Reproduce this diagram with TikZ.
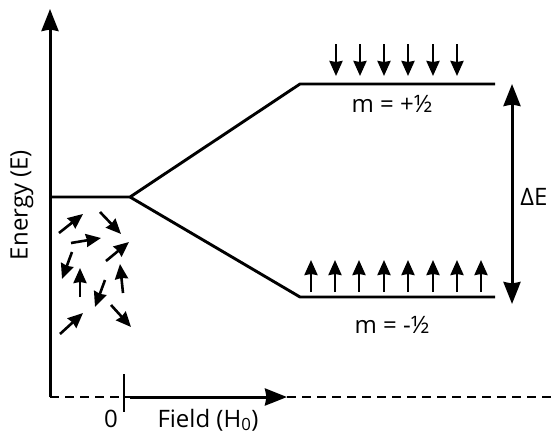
\documentclass[tikz,border=0pt]{standalone}
\usepackage{fontspec}
\setmainfont{Open Sans}
\usetikzlibrary{arrows.meta}
\newcommand\lblfont{\fontsize{24pt}{28pt}\selectfont}
\begin{document}
\begin{tikzpicture}[x=1pt,y=-1pt,
  line/.style={line width=2.9pt},
  bigarrow/.style={line width=3pt,-{Stealth[length=22pt,width=17pt,inset=1.5pt]}},
  dblarrow/.style={line width=3pt,{Stealth[length=22pt,width=17pt,inset=1.5pt]}-{Stealth[length=22pt,width=17pt,inset=1.5pt]}},
  spin/.style={line width=2.6pt,-{Stealth[length=15pt,width=13pt,inset=1pt]}},
  lbl/.style={font=\lblfont,inner sep=0pt}]
\useasboundingbox (0,0) rectangle (551,434);
% axes
\coordinate (o) at (50,397);
\coordinate (top) at (50,9);
\coordinate (z) at (130,397);
\coordinate (ft) at (287,397);
\coordinate (re) at (551,397);
\draw[bigarrow] (o) -- (top);
\draw[line, dash pattern=on 9pt off 6pt] (o) -- (z);
\draw[bigarrow] (z) -- (ft);
\draw[line, dash pattern=on 9pt off 6pt] (ft) -- (re);
\coordinate (tk1) at (124,374);
\coordinate (tk2) at (124,412);
\draw[line] (tk1) -- (tk2);
\node[lbl,anchor=base] (zero) at (111,427) {0};
\node[lbl,anchor=base] (field) at (208,427) {Field (H\textsubscript{0})};
\node[lbl,rotate=90] (energy) at (22,205) {Energy (E)};
% levels
\coordinate (l0) at (50,197);
\coordinate (s) at (130,197);
\coordinate (u1) at (300,84);
\coordinate (u2) at (495,84);
\coordinate (d1) at (300,297);
\coordinate (d2) at (495,297);
\draw[line] (l0) -- (s) -- (u1) -- (u2);
\draw[line] (s) -- (d1) -- (d2);
\node[lbl] (mp) at (392,104) {m = +½};
\node[lbl] (mm) at (392,325) {m = -½};
% delta E
\coordinate (de1) at (512,84);
\coordinate (de2) at (512,304);
\draw[dblarrow] (de1) -- (de2);
\node[lbl] (dE) at (534,197) {ΔE};
% down spins
\foreach \x [count=\i] in {336,360,384,408,433,457}{
  \coordinate (da\i) at (\x,44);
  \coordinate (db\i) at (\x,76);
  \draw[spin] (da\i) -- (db\i);
}
% up spins
\foreach \x [count=\i] in {311,335,359,384,408,433,457,481}{
  \coordinate (ua\i) at (\x,292);
  \coordinate (ub\i) at (\x,260);
  \draw[spin] (ua\i) -- (ub\i);
}
% random spins
\foreach \ax/\ay/\bx/\by [count=\i] in {59/233/83/214, 100/212/121/234, 71/243/101/238, 106/261/129/242, 72/252/62/279, 80/297/80/268, 123/293/120/264, 105/280/95/307, 60/334/83/313, 111/305/131/327}{
  \coordinate (ra\i) at (\ax,\ay);
  \coordinate (rb\i) at (\bx,\by);
  \draw[spin] (ra\i) -- (rb\i);
}
\end{tikzpicture}
\end{document}
